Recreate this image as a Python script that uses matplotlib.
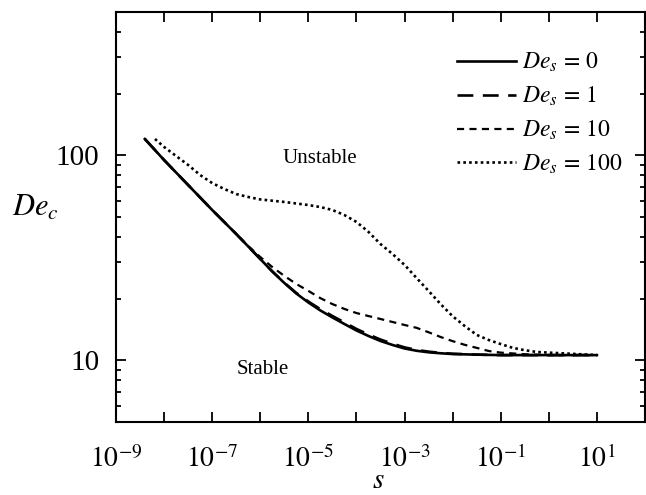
import math

import matplotlib
matplotlib.use("Agg")
import matplotlib.pyplot as plt
import numpy as np
from matplotlib.ticker import FixedLocator, FuncFormatter, NullFormatter

plt.rcParams["font.family"] = ["Liberation Serif", "DejaVu Serif"]
plt.rcParams["mathtext.fontset"] = "stix"

# values: log10(s) and critical De_c for each De_s
logs_0 = [-8.4, -8, -7.5, -7, -6.5, -6, -5.75, -5.5, -5.25, -5, -4.75, -4.5, -4.25,
          -4, -3.75, -3.5, -3.25, -3, -2.75, -2.5, -2.25, -2, -1.5, -1, 0, 1]
de_0 = [120.1, 94.8, 71.6, 54.1, 41.3, 31.2, 27.1, 23.83, 21.17, 19.14, 17.5, 16.18,
        15.03, 13.98, 13.14, 12.42, 11.88, 11.42, 11.13, 10.94, 10.82, 10.73, 10.65,
        10.6, 10.6, 10.6]

logs_1 = logs_0
de_1 = [120.1, 94.8, 71.6, 54.1, 41.3, 31.2, 27.15, 23.9, 21.3, 19.35, 17.75, 16.45,
        15.3, 14.22, 13.36, 12.62, 12.05, 11.56, 11.24, 11.02, 10.87, 10.76, 10.66,
        10.6, 10.6, 10.6]

logs_10 = [-8.4, -8, -7.5, -7, -6.5, -6.25, -6, -5.75, -5.5, -5.25, -5, -4.75,
           -4.5, -4.25, -4, -3.5, -3, -2.75, -2.5, -2.25, -2, -1.75, -1.5, -1.25,
           -1, -0.5, 0, 1]
de_10 = [120.1, 94.8, 71.6, 54.1, 41.3, 36.1, 31.9, 28.5, 25.8, 23.56, 21.8, 20.1,
         18.8, 17.8, 17.0, 15.9, 14.87, 14.4, 13.7, 12.99, 12.4, 11.9, 11.5, 11.1,
         10.9, 10.7, 10.6, 10.6]

logs_100 = [-8.19, -8, -7.75, -7.5, -7.25, -7, -6.75, -6.5, -6.25, -6, -5.5, -5,
            -4.75, -4.5, -4.25, -4, -3.75, -3.5, -3.25, -3, -2.75, -2.5, -2.25, -2,
            -1.75, -1.5, -1.25, -1, -0.75, -0.5, -0.25, 0, 0.5, 1]
de_100 = [120.1, 109.8, 99.2, 89.7, 80.1, 73.2, 68.5, 64.7, 62.6, 60.9, 59.2, 57.2,
          55.9, 54.1, 51.1, 47.3, 42.3, 36.9, 33.0, 29.2, 25.2, 21.8, 18.8, 16.4,
          14.7, 13.3, 12.56, 12.0, 11.5, 11.2, 10.98, 10.9, 10.75, 10.6]

labels = [r"$\mathit{De_s\,=\,0}$", r"$\mathit{De_s\,=\,1}$",
          r"$\mathit{De_s\,=\,10}$", r"$\mathit{De_s\,=\,100}$"]

x_major = [10.0**k for k in range(-9, 3)]
y_minor = [6, 7, 8, 9, 20, 30, 40, 50, 60, 70, 80, 90, 200, 300, 400]

fig = plt.figure(figsize=(6.46, 4.95), dpi=100)
ax = fig.add_axes([116 / 646, 1 - 422 / 495, 529 / 646, 410 / 495])

ax.plot(10 ** np.array(logs_0), de_0, color="black", lw=1.9, ls="-", label=labels[0])
ax.plot(10 ** np.array(logs_1), de_1, color="black", lw=1.9, ls=(0, (6.0, 3.6)),
        label=labels[1])
ax.plot(10 ** np.array(logs_10), de_10, color="black", lw=1.6, ls=(0, (3.2, 2.4)),
        label=labels[2])
ax.plot(10 ** np.array(logs_100), de_100, color="black", lw=1.9, ls=(0, (1.0, 1.2)),
        label=labels[3])

ax.set_xscale("log")
ax.set_yscale("log")
ax.set_xlim(1e-9, 1e2)
ax.set_ylim(5, 500)

ax.xaxis.set_major_locator(FixedLocator(x_major))
ax.xaxis.set_minor_locator(FixedLocator([]))


def xfmt(v, pos):
    k = int(round(math.log10(v)))
    if k % 2 == 0 or k > 1:
        return ""
    return r"$10^{%d}$" % k


ax.xaxis.set_major_formatter(FuncFormatter(xfmt))
ax.yaxis.set_major_locator(FixedLocator([10, 100]))
ax.yaxis.set_minor_locator(FixedLocator(y_minor))
ax.yaxis.set_major_formatter(FuncFormatter(lambda v, p: "%d" % v))
ax.yaxis.set_minor_formatter(NullFormatter())

ax.tick_params(which="both", direction="in", top=True, right=True, width=1.3)
ax.tick_params(which="major", length=7.5)
ax.tick_params(which="minor", length=3.8)
ax.tick_params(axis="x", which="major", labelsize=20, pad=17)
ax.tick_params(axis="y", which="major", labelsize=21, pad=12)
for sp in ax.spines.values():
    sp.set_linewidth(1.5)

ax.set_ylabel(r"$\mathit{De_c}$", fontsize=22, rotation=0)
ax.yaxis.set_label_coords(-0.152, 0.486)
ax.set_xlabel(r"$\mathit{s}$", fontsize=21, va="top")
ax.xaxis.set_label_coords(0.495, -0.112)

ax.text(1.7e-5, 96, "Unstable", fontsize=15, ha="center", va="center")
ax.text(1.1e-6, 9.0, "Stable", fontsize=15, ha="center", va="center")

ax.legend(loc="upper left", bbox_to_anchor=(0.645, 0.905), frameon=False,
          fontsize=17, handlelength=2.5, handletextpad=0.25,
          labelspacing=0.45, borderpad=0, borderaxespad=0)

fig.savefig("out.png", dpi=100)
